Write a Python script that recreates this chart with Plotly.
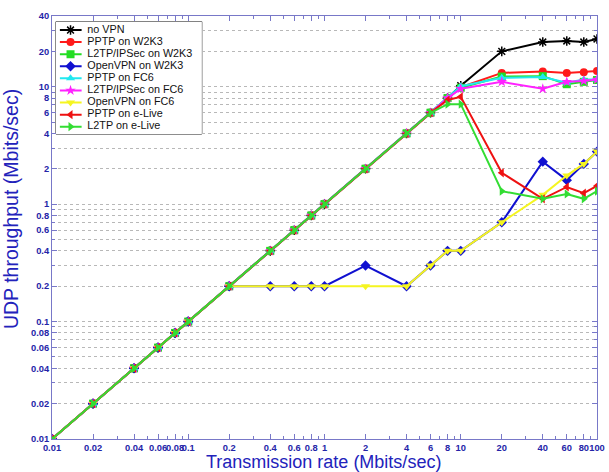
import plotly.graph_objects as go

rate = [0.01, 0.02, 0.04, 0.06, 0.08, 0.1, 0.2, 0.4, 0.6, 0.8, 1, 2, 4, 6, 8, 10, 20, 40, 60, 80, 100]
base = [0.01, 0.02, 0.04, 0.06, 0.08, 0.1, 0.2, 0.4, 0.6, 0.8, 1, 2, 4, 6]

no_vpn = base + [8, 10.2, 20, 24, 24.5, 24, 25.5]
pptp_w2k3 = base + [8, 9.9, 13.1, 13.5, 13.1, 13.3, 13.6]
l2tp_w2k3 = base + [8, 9.8, 12.2, 12.3, 10.5, 11, 11.4]
openvpn_w2k3 = [0.01, 0.02, 0.04, 0.06, 0.08, 0.1, 0.2, 0.2, 0.2, 0.2, 0.2, 0.3, 0.2, 0.3, 0.4, 0.4, 0.7, 2.3, 1.6, 2.2, 2.8]
pptp_fc6 = base + [8, 10.1, 11.9, 12.1, 10.8, 11.5, 11.5]
l2tp_fc6 = base + [8, 9.6, 11.0, 9.6, 11.0, 11.2, 11.5]
openvpn_fc6 = [0.01, 0.02, 0.04, 0.06, 0.08, 0.1, 0.2, 0.2, 0.2, 0.2, 0.2, 0.2, 0.2, 0.3, 0.4, 0.4, 0.7, 1.2, 1.75, 2.2, 2.8]
pptp_elive = base + [7.7, 8.2, 1.85, 1.11, 1.4, 1.24, 1.43]
l2tp_elive = base + [7.1, 7.1, 1.29, 1.11, 1.22, 1.11, 1.29]

names = ["no VPN", "PPTP on W2K3", "L2TP/IPSec on W2K3", "OpenVPN on W2K3", "PPTP on FC6",
         "L2TP/IPSec on FC6", "OpenVPN on FC6", "PPTP on e-Live", "L2TP on e-Live"]
series = [no_vpn, pptp_w2k3, l2tp_w2k3, openvpn_w2k3, pptp_fc6, l2tp_fc6, openvpn_fc6, pptp_elive, l2tp_elive]
colors = ["#000000", "#ff1a1a", "#22dd22", "#1010d0", "#22e8f0", "#ff22ff", "#f5f520", "#ee1111", "#33dd33"]
symbols = ["asterisk-open", "circle", "square", "diamond", "triangle-up", "star", "triangle-down",
           "triangle-left", "triangle-right"]

xticks = [0.01, 0.02, 0.04, 0.06, 0.08, 0.1, 0.2, 0.4, 0.6, 0.8, 1, 2, 4, 6, 8, 10, 20, 40, 60, 80, 100]
xticktext = ["0.01", "0.02", "0.04", "0.06", "0.08", "0.1", "0.2", "0.4", "0.6", "0.8", "1", "2", "4", "6", "8",
             "10", "20", "40", "60", "80", "100"]
yticks = [0.01, 0.02, 0.04, 0.06, 0.08, 0.1, 0.2, 0.4, 0.6, 0.8, 1, 2, 4, 6, 8, 10, 20, 40]
yticktext = ["0.01", "0.02", "0.04", "0.06", "0.08", "0.1", "0.2", "0.4", "0.6", "0.8", "1", "2", "4", "6", "8",
             "10", "20", "40"]

fig = go.Figure()


def marker_for(s, c):
    if s == "asterisk-open":
        return dict(symbol=s, size=8, color=c, line=dict(width=1.5, color=c))
    return dict(symbol=s, size=8, color=c, line=dict(width=0))


for name, ys, c, s in zip(names, series, colors, symbols):
    fig.add_trace(go.Scatter(x=rate, y=ys, mode="lines+markers", name=name,
                             line=dict(color=c, width=2), marker=marker_for(s, c), showlegend=False,
                             xaxis="x", yaxis="y"))

# custom compact legend drawn in an auxiliary axis pair
for i, (name, c, s) in enumerate(zip(names, colors, symbols)):
    yy = 1 - (8.3 + 12.09 * i) / 112.3
    fig.add_trace(go.Scatter(x=[0.027, 0.176], y=[yy, yy], mode="lines", line=dict(color=c, width=2),
                             showlegend=False, xaxis="x2", yaxis="y2", hoverinfo="skip"))
    fig.add_trace(go.Scatter(x=[0.1], y=[yy], mode="markers", marker=marker_for(s, c),
                             showlegend=False, xaxis="x2", yaxis="y2", hoverinfo="skip"))
    fig.add_trace(go.Scatter(x=[0.215], y=[yy], mode="text", text=[name], textposition="middle right",
                             textfont=dict(family="Liberation Sans, Arial", size=10.8, color="#111111"),
                             showlegend=False, xaxis="x2", yaxis="y2", hoverinfo="skip"))

axis_col = "#7878c8"
tick_font = dict(family="Liberation Sans, Arial", size=9.3, color="#2424a8", weight="bold")
grid_col = "#b8b8b8"

fig.update_layout(
    width=609, height=472,
    margin=dict(l=52, r=4, t=16, b=33),
    paper_bgcolor="white", plot_bgcolor="white",
    showlegend=False,
    xaxis=dict(type="log", range=[-2, 2], tickvals=xticks, ticktext=xticktext, tickangle=0,
               ticklabeloverflow="allow",
               tickfont=tick_font, ticks="inside", ticklen=5, tickcolor=axis_col,
               showline=True, linecolor=axis_col, linewidth=1, mirror="ticks",
               showgrid=False,
               minor=dict(dtick="D1", ticks="inside", ticklen=3, tickcolor=axis_col, showgrid=False),
               zeroline=False),
    yaxis=dict(type="log", range=[-2, 1.60206], tickvals=yticks, ticktext=yticktext, tickangle=0,
               ticklabeloverflow="allow",
               tickfont=tick_font, ticks="inside", ticklen=5, tickcolor=axis_col,
               showline=True, linecolor=axis_col, linewidth=1, mirror="ticks",
               showgrid=True, gridcolor=grid_col, griddash="dot", gridwidth=1,
               minor=dict(dtick="D1", ticks="inside", ticklen=3, tickcolor=axis_col,
                          showgrid=True, gridcolor=grid_col, griddash="dot"),
               zeroline=False),
    xaxis2=dict(domain=[0.00723, 0.2749], range=[0, 1], visible=False, anchor="y2", fixedrange=True),
    yaxis2=dict(domain=[0.721, 0.9865], range=[0, 1], visible=False, anchor="x2", fixedrange=True),
    shapes=[dict(type="rect", xref="x2 domain", yref="y2 domain", x0=0, x1=1, y0=0, y1=1,
                 fillcolor="white", line=dict(color="#222222", width=1), layer="below")],
    annotations=[
        dict(text="Transmission rate (Mbits/sec)", xref="paper", yref="paper", x=(327 - 52) / 553,
             y=-(462 - 439) / 423, xanchor="center", yanchor="middle", showarrow=False,
             font=dict(family="Liberation Sans, Arial", size=18, color="#2222bb")),
        dict(text="UDP throughput (Mbits/sec)", xref="paper", yref="paper", x=-(52 - 10.5) / 553,
             y=1 - (209 - 16) / 423, xanchor="center", yanchor="middle", showarrow=False, textangle=-90,
             font=dict(family="Liberation Sans, Arial", size=19.5, color="#2222bb")),
    ],
)

fig.write_html("out.html")
